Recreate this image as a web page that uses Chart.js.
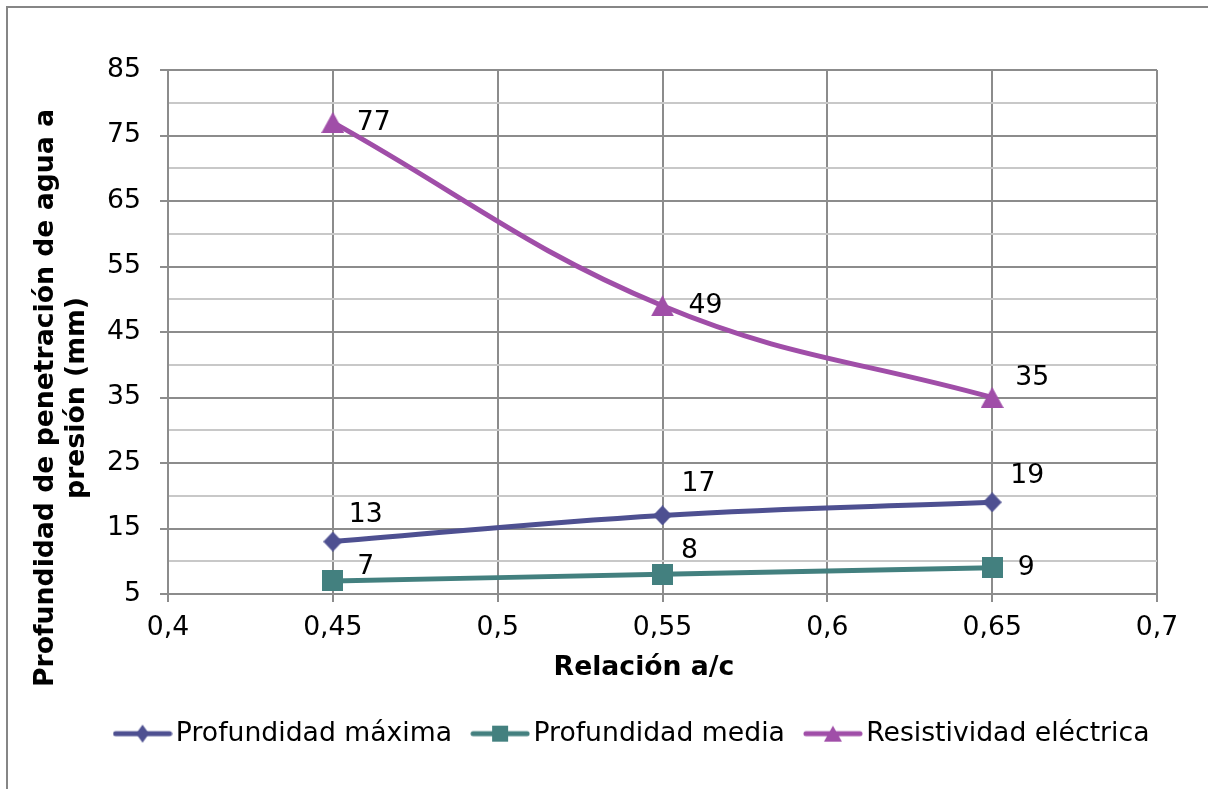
<!DOCTYPE html>
<html>
<head>
<meta charset="utf-8">
<script src="https://cdn.jsdelivr.net/npm/chart.js@4"></script>
<style>
  html, body { margin: 0; padding: 0; background: #fff; overflow: hidden; }
  #c { display: block; }
</style>
</head>
<body>
<canvas id="c" width="1208" height="789"></canvas>
<script>
/* Datos */
const relacionAC = [0.45, 0.55, 0.65];
const profMaxima = [13, 17, 19];
const profMedia = [7, 8, 9];
const resistividad = [77, 49, 35];
const seriesNames = ['Profundidad máxima', 'Profundidad media', 'Resistividad eléctrica'];
const xTitle = 'Relación a/c';
const yTitle = ['Profundidad de penetración de agua a', 'presión (mm)'];

const X_MIN = 0.4, X_MAX = 0.7, X_STEP = 0.05;
const Y_MIN = 5, Y_MAX = 85, Y_STEP = 5;   // etiquetas cada 10 (5, 15, ... 85)

const FONT = '"DejaVu Sans", Verdana, sans-serif';
const FS = 26.67;                           // 20 pt
const COL_MAX = '#4E5091';
const COL_MED = '#43807F';
const COL_RES = '#A04EA8';
const GRID_MAJOR = '#8C8C8C';
const GRID_MINOR = '#C8C8C8';

const pts = ys => relacionAC.map((x, i) => ({ x, y: ys[i] }));
const isMajorY = v => Math.round(v - Y_MIN) % 10 === 0;

/* Marcador (rombo / cuadrado / triángulo) centrado en (cx, cy) */
function drawMarker(g, shape, cx, cy, w, h) {
  g.beginPath();
  if (shape === 'diamond') {
    g.moveTo(cx, cy - h / 2); g.lineTo(cx + w / 2, cy); g.lineTo(cx, cy + h / 2); g.lineTo(cx - w / 2, cy);
  } else if (shape === 'square') {
    g.rect(cx - w / 2, cy - h / 2, w, h);
  } else {
    g.moveTo(cx, cy - h / 2); g.lineTo(cx + w / 2, cy + h / 2); g.lineTo(cx - w / 2, cy + h / 2);
  }
  g.closePath(); g.fill();
}

function markerImage(color, shape, w, h) {
  const cv = document.createElement('canvas');
  cv.width = w; cv.height = h;
  const g = cv.getContext('2d');
  g.fillStyle = color;
  drawMarker(g, shape, w / 2, h / 2, w, h);
  return cv;
}

/* Icono de leyenda: línea + marcador */
function legendIcon(color, shape, mw, mh) {
  const cv = document.createElement('canvas');
  cv.width = 60; cv.height = 26;
  const g = cv.getContext('2d');
  g.strokeStyle = color; g.fillStyle = color; g.lineWidth = 5; g.lineCap = 'round';
  g.beginPath(); g.moveTo(3, 13); g.lineTo(57, 13); g.stroke();
  drawMarker(g, shape, 30, 13, mw, mh);
  return cv;
}

const pointImgs = [
  markerImage(COL_MAX, 'diamond', 19, 20),
  markerImage(COL_MED, 'square', 21, 21),
  markerImage(COL_RES, 'triangle', 23, 21),
];
const legendIcons = [
  legendIcon(COL_MAX, 'diamond', 13, 18),
  legendIcon(COL_MED, 'square', 16, 16),
  legendIcon(COL_RES, 'triangle', 18, 16),
];

/* Borde, títulos de ejes y etiquetas de datos */
const decoPlugin = {
  id: 'deco',
  beforeDraw(chart) {
    const ctx = chart.ctx;
    ctx.save();
    ctx.strokeStyle = '#868686';
    ctx.lineWidth = 2;
    ctx.strokeRect(7, 7, 1220, 800);
    ctx.restore();
  },
  afterDatasetsDraw(chart, args, opts) {
    const ctx = chart.ctx;
    ctx.save();
    ctx.font = FS + 'px ' + FONT;
    ctx.fillStyle = '#000';
    ctx.textAlign = 'center';
    ctx.textBaseline = 'middle';
    chart.data.datasets.forEach((ds, di) => {
      const meta = chart.getDatasetMeta(di);
      meta.data.forEach((p, i) => {
        const [dx, dy] = opts.offsets[di][i];
        ctx.fillText(String(ds.data[i].y), p.x + dx, p.y + dy);
      });
    });
    ctx.restore();
  },
  afterDraw(chart, args, opts) {
    const ctx = chart.ctx;
    ctx.save();
    ctx.fillStyle = '#000';
    ctx.font = 'bold ' + FS + 'px ' + FONT;
    ctx.textAlign = 'center';
    ctx.textBaseline = 'middle';
    ctx.fillText(xTitle, opts.xTitlePos[0], opts.xTitlePos[1]);
    ctx.translate(opts.yTitlePos[0], opts.yTitlePos[1]);
    ctx.rotate(-Math.PI / 2);
    yTitle.forEach((line, i) => ctx.fillText(line, 0, i * opts.yTitleLine));
    ctx.restore();
  },
};

function series(label, data, color, img) {
  return {
    label,
    data: pts(data),
    borderColor: color,
    backgroundColor: color,
    borderWidth: 5,
    pointStyle: img,
    pointRadius: 10,
    pointHoverRadius: 10,
    pointBorderWidth: 0,
    tension: 0.4,
  };
}

new Chart(document.getElementById('c').getContext('2d'), {
  type: 'line',
  plugins: [decoPlugin],
  data: {
    datasets: [
      series(seriesNames[0], profMaxima, COL_MAX, pointImgs[0]),
      series(seriesNames[1], profMedia, COL_MED, pointImgs[1]),
      series(seriesNames[2], resistividad, COL_RES, pointImgs[2]),
    ],
  },
  options: {
    responsive: false,
    devicePixelRatio: 1,
    animation: false,
    layout: { padding: { left: 64, right: 0, top: 70, bottom: 32 } },
    scales: {
      x: {
        type: 'linear',
        min: X_MIN, max: X_MAX,
        afterFit: s => { s.height = 98.33; },
        ticks: {
          stepSize: X_STEP,
          padding: 10,
          color: '#000',
          font: { size: FS, family: FONT },
          maxRotation: 0,
          autoSkip: false,
          callback: v => String(Number(v.toFixed(2))).replace('.', ','),
        },
        grid: { color: GRID_MAJOR, lineWidth: 2, tickLength: 8, tickColor: GRID_MAJOR },
        border: { color: GRID_MAJOR, width: 2 },
      },
      y: {
        min: Y_MIN, max: Y_MAX,
        afterFit: s => { s.width = 104; },
        ticks: {
          stepSize: Y_STEP,
          padding: 19,
          color: '#000',
          font: { size: FS, family: FONT },
          autoSkip: false,
          callback: v => (isMajorY(v) ? String(v) : ''),
        },
        grid: {
          lineWidth: 2,
          tickLength: 8,
          color: c => (isMajorY(c.tick.value) ? GRID_MAJOR : GRID_MINOR),
          tickColor: c => (isMajorY(c.tick.value) ? GRID_MAJOR : 'rgba(0,0,0,0)'),
        },
        border: { color: GRID_MAJOR, width: 2 },
      },
      // eje vacío a la derecha: reserva el margen derecho del área de trazado
      yRight: {
        position: 'right',
        min: Y_MIN, max: Y_MAX,
        afterFit: s => { s.width = 51; },
        ticks: { display: false },
        grid: { display: false, drawTicks: false },
        border: { display: false },
      },
    },
    plugins: {
      tooltip: { enabled: false },
      legend: {
        position: 'bottom',
        labels: {
          usePointStyle: true,
          pointStyleWidth: 40,
          padding: 28,
          color: '#000',
          font: { size: FS, family: FONT },
          generateLabels: chart => chart.data.datasets.map((ds, i) => ({
            text: ds.label,
            pointStyle: legendIcons[i],
            fillStyle: ds.borderColor,
            strokeStyle: ds.borderColor,
            lineWidth: 0,
            hidden: false,
            datasetIndex: i,
            fontColor: '#000',
          })),
        },
      },
      deco: {
        offsets: [
          [[33, -27], [36, -31], [35, -26]],
          [[33, -14], [27, -23], [34, 0]],
          [[41, 1], [43, 0], [40, -19]],
        ],
        xTitlePos: [644, 668],
        yTitlePos: [46, 398],
        yTitleLine: 31.5,
      },
    },
  },
});
</script>
</body>
</html>
